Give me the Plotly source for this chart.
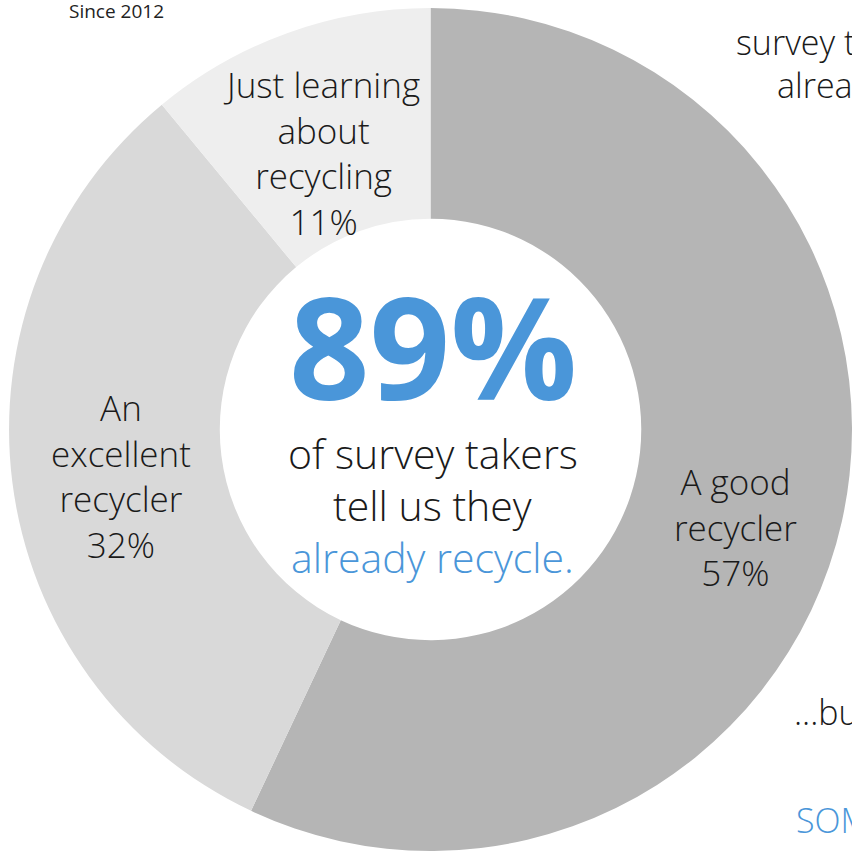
import plotly.graph_objects as go

# Survey answers: how people rate themselves as recyclers
categories = ["A good<br>recycler", "An<br>excellent<br>recycler", "Just learning<br>about<br>recycling"]
shares = [57, 32, 11]
slice_colors = ["#b5b5b5", "#d9d9d9", "#eeeeee"]

# Label anchor points in page pixels (x, y from top-left)
label_px = [(735, 527), (121, 476), (321, 153)]

W = H = 852
BLUE = "#4a96d9"
INK = "#1a1a1a"
FONT = "Open Sans"


def px(x):
    return x / W


def py(y):
    return 1 - y / H


fig = go.Figure(
    go.Pie(
        labels=categories,
        values=shares,
        sort=False,
        direction="clockwise",
        rotation=0,
        hole=0.5,
        marker=dict(colors=slice_colors, line=dict(width=0)),
        textinfo="none",
        hoverinfo="none",
        showlegend=False,
        domain=dict(x=[0.0106, 1.0], y=[0.0, 0.9918]),
    )
)

annotations = []

# Slice labels built from the data
for cat, val, (x, y) in zip(categories, shares, label_px):
    annotations.append(dict(
        text=f"{cat}<br>{val}%", x=px(x), y=py(y), xref="paper", yref="paper",
        xanchor="center", yanchor="middle", showarrow=False, align="center",
        font=dict(family=FONT, size=35, color=INK, weight=300),
    ))

# Centre of the donut: share of people who already recycle
already = shares[0] + shares[1]
annotations.append(dict(
    text=f"{already}%", x=px(433), y=py(345), xref="paper", yref="paper",
    xanchor="center", yanchor="middle", showarrow=False, height=124,
    font=dict(family=FONT, size=141, color=BLUE, weight=700),
))
for text, y, color in [("of survey takers", 453, INK), ("tell us they", 505, INK),
                       ("already recycle.", 557, BLUE)]:
    annotations.append(dict(
        text=text, x=px(433), y=py(y), xref="paper", yref="paper",
        xanchor="center", yanchor="middle", showarrow=False,
        font=dict(family=FONT, size=41, color=color, weight=300),
    ))

# Surrounding infographic text
annotations.append(dict(
    text="Since 2012", x=px(116), y=py(11), xref="paper", yref="paper",
    xanchor="center", yanchor="middle", showarrow=False,
    font=dict(family=FONT, size=19, color="#222222"),
))
for text, x, y, color in [("survey takers", 734, 42, INK), ("already recycle", 775, 85, INK),
                          ("...but", 792, 712, INK), ("SOME", 794, 820, BLUE)]:
    annotations.append(dict(
        text=text, x=px(x), y=py(y), xref="paper", yref="paper",
        xanchor="left", yanchor="middle", showarrow=False,
        font=dict(family=FONT, size=34, color=color, weight=300),
    ))

fig.update_layout(
    width=W, height=H,
    margin=dict(l=0, r=0, t=0, b=0),
    paper_bgcolor="white", plot_bgcolor="white",
    annotations=annotations,
)

fig.write_html("out.html")
